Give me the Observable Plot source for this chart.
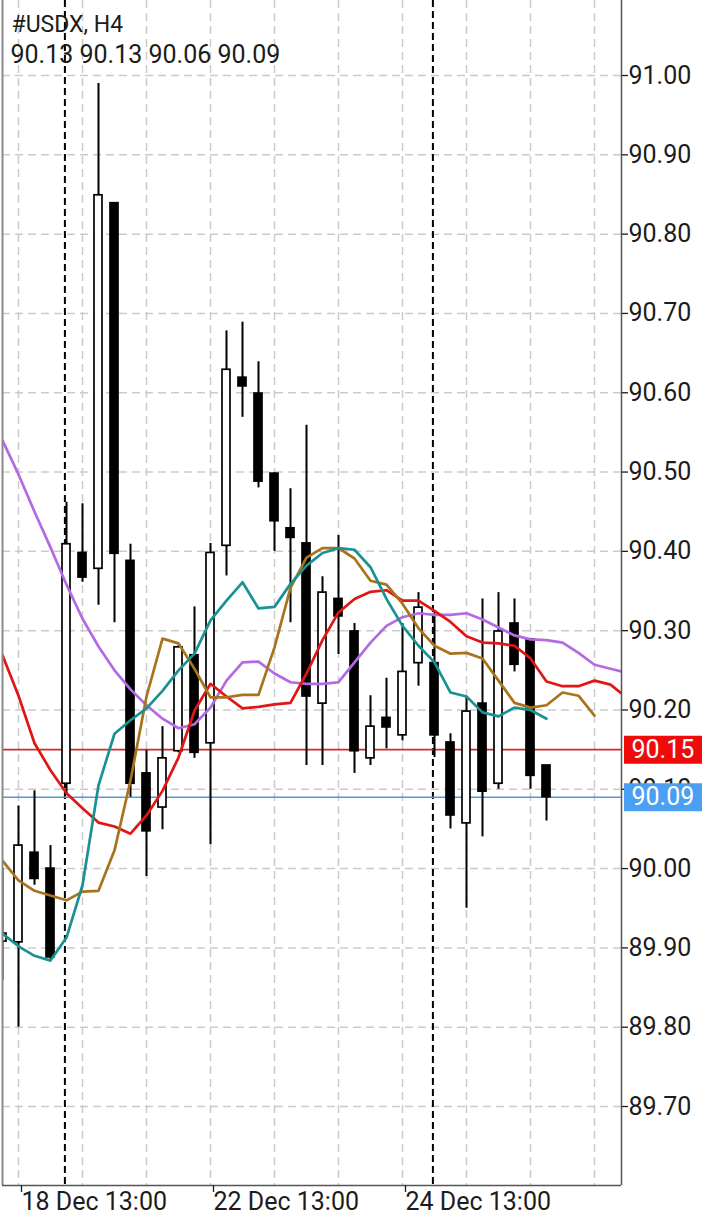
<!DOCTYPE html>
<html>
<head>
<meta charset="utf-8">
<script src="https://cdn.jsdelivr.net/npm/d3@7"></script>
<script src="https://cdn.jsdelivr.net/npm/@observablehq/plot@0.6"></script>
<style>
  html, body { margin: 0; padding: 0; background: #fff; }
  svg { display: block; }
</style>
</head>
<body>
<div id="chart"></div>
<script>
// ---------- data ----------
const symbolTitle = "#USDX, H4";
const ohlcHeader = "90.13 90.13 90.06 90.09";

// H4 candles, left to right (first one partly cut by the left edge)
const openPrices  = [89.908, 89.907, 90.020, 90.000, 90.107, 90.398, 90.378, 90.839, 90.388, 90.120, 90.077, 90.148, 90.269, 90.158, 90.407, 90.619, 90.599, 90.498, 90.429, 90.410, 90.208, 90.340, 90.299, 90.139, 90.190, 90.168, 90.259, 90.259, 90.159, 90.057, 90.208, 90.107, 90.309, 90.289, 90.13];
const highPrices  = [90.000, 90.079, 90.098, 90.029, 90.462, 90.460, 90.990, 90.840, 90.409, 90.149, 90.179, 90.281, 90.330, 90.410, 90.678, 90.689, 90.639, 90.499, 90.479, 90.559, 90.368, 90.420, 90.309, 90.218, 90.240, 90.309, 90.348, 90.323, 90.170, 90.216, 90.340, 90.348, 90.340, 90.289, 90.13];
const lowPrices   = [89.859, 89.800, 89.979, 89.884, 90.092, 90.361, 90.332, 90.310, 90.090, 89.990, 90.049, 90.146, 90.139, 90.030, 90.369, 90.569, 90.480, 90.400, 90.310, 90.130, 90.130, 90.270, 90.120, 90.130, 90.151, 90.161, 90.230, 90.140, 90.050, 89.950, 90.040, 90.100, 90.248, 90.100, 90.06];
const closePrices = [89.918, 90.029, 89.987, 89.888, 90.409, 90.367, 90.849, 90.397, 90.107, 90.047, 90.139, 90.279, 90.146, 90.398, 90.629, 90.608, 90.488, 90.438, 90.417, 90.217, 90.348, 90.318, 90.148, 90.179, 90.178, 90.248, 90.329, 90.168, 90.067, 90.198, 90.097, 90.299, 90.257, 90.117, 90.09];

// moving averages (values per bar slot, shifted ones run past the last candle)
const maPurple = [90.540, 90.497, 90.450, 90.405, 90.358, 90.315, 90.280, 90.250, 90.226, 90.206, 90.189, 90.177, 90.182, 90.203, 90.237, 90.260, 90.261, 90.246, 90.235, 90.233, 90.233, 90.235, 90.260, 90.285, 90.306, 90.317, 90.322, 90.320, 90.320, 90.322, 90.314, 90.304, 90.294, 90.289, 90.288, 90.285, 90.272, 90.257, 90.252, 90.247];
const maRed    = [90.269, 90.218, 90.158, 90.124, 90.095, 90.076, 90.058, 90.053, 90.044, 90.067, 90.098, 90.140, 90.199, 90.233, 90.217, 90.202, 90.204, 90.207, 90.209, 90.246, 90.288, 90.323, 90.340, 90.349, 90.351, 90.338, 90.338, 90.325, 90.311, 90.293, 90.285, 90.284, 90.281, 90.265, 90.236, 90.230, 90.230, 90.237, 90.232, 90.216];
const maBrown  = [90.010, 89.985, 89.972, 89.966, 89.960, 89.971, 89.972, 90.023, 90.111, 90.217, 90.290, 90.284, 90.252, 90.216, 90.216, 90.219, 90.219, 90.279, 90.354, 90.392, 90.404, 90.404, 90.391, 90.363, 90.358, 90.334, 90.303, 90.281, 90.271, 90.272, 90.265, 90.237, 90.209, 90.203, 90.206, 90.222, 90.218, 90.193];
const maTeal   = [89.918, 89.902, 89.890, 89.884, 89.913, 89.979, 90.105, 90.170, 90.187, 90.202, 90.224, 90.250, 90.271, 90.313, 90.338, 90.361, 90.328, 90.330, 90.359, 90.382, 90.398, 90.404, 90.402, 90.380, 90.340, 90.306, 90.281, 90.260, 90.222, 90.217, 90.197, 90.192, 90.203, 90.200, 90.189];

const priceTicks = [89.7, 89.8, 89.9, 90.0, 90.1, 90.2, 90.3, 90.4, 90.5, 90.6, 90.7, 90.8, 90.9, 91.0];
const timeTickSlots = [1, 13, 25];
const timeTickLabels = ["18 Dec 13:00", "22 Dec 13:00", "24 Dec 13:00"];
const gridSlots = [1, 5, 9, 13, 17, 21, 25, 29, 33, 37];
const daySeparatorSlots = [3.9, 26.9];
const bidPrice = 90.15;
const lastPrice = 90.09;

// ---------- build tables ----------
const candles = openPrices.map((o, i) => ({
  i, open: o, high: highPrices[i], low: lowPrices[i], close: closePrices[i]
}));
const series = arr => arr.map((v, i) => ({ i, v }));
const timeLabelMap = new Map(timeTickSlots.map((s, k) => [s, timeTickLabels[k]]));

const X_MAX = 38.6875;
const Y_MIN = 89.6004, Y_MAX = 91.0946;
const FONT = 25;
const TEXT = "#1c1c1c";
const GRID = "#cbcbcb";

const chart = Plot.plot({
  width: 720,
  height: 1216,
  marginLeft: 2,
  marginRight: 99,
  marginTop: 0,
  marginBottom: 31,
  style: { background: "#ffffff", fontFamily: "Roboto, sans-serif", fontSize: "25px", color: TEXT, overflow: "visible" },
  x: { domain: [0, X_MAX], axis: null },
  y: { domain: [Y_MIN, Y_MAX], axis: null },
  color: { type: "identity" },
  marks: [
    // grid
    Plot.ruleY(priceTicks, { stroke: GRID, strokeWidth: 1.5, strokeDasharray: "8,5" }),
    Plot.ruleX(gridSlots, { stroke: GRID, strokeWidth: 1.5, strokeDasharray: "8,5" }),
    // day separators
    Plot.ruleX(daySeparatorSlots, { stroke: "#000", strokeWidth: 2, strokeDasharray: "7,4" }),
    // price lines
    Plot.ruleY([bidPrice], { stroke: "#d42a2a", strokeWidth: 1.6 }),
    Plot.ruleY([lastPrice], { stroke: "#4f9be3", strokeWidth: 1.6 }),
    // candles
    Plot.ruleX(candles, { x: "i", y1: "low", y2: "high", stroke: "#000", strokeWidth: 2, clip: true }),
    Plot.rect(candles, {
      x1: d => d.i - 0.25, x2: d => d.i + 0.25,
      y1: "open", y2: "close",
      fill: d => d.close > d.open ? "#ffffff" : "#000000",
      stroke: "#000", strokeWidth: 1.7, clip: true
    }),
    // moving averages
    Plot.line(series(maPurple), { x: "i", y: "v", stroke: "#b36ae2", strokeWidth: 2.7, clip: true }),
    Plot.line(series(maRed), { x: "i", y: "v", stroke: "#e01515", strokeWidth: 2.7, clip: true }),
    Plot.line(series(maBrown), { x: "i", y: "v", stroke: "#a8731c", strokeWidth: 2.7, clip: true }),
    Plot.line(series(maTeal), { x: "i", y: "v", stroke: "#1b9191", strokeWidth: 2.7, clip: true }),
    // frame lines
    Plot.ruleX([0], { stroke: "#8a8a8a", strokeWidth: 2 }),
    Plot.ruleX([X_MAX], { stroke: "#555", strokeWidth: 1.5 }),
    Plot.ruleY([Y_MIN], { stroke: "#555", strokeWidth: 1.5 }),
    // axes
    Plot.axisY(priceTicks, {
      anchor: "right", tickSize: 6, tickPadding: 1, label: null,
      tickFormat: d => d.toFixed(2), fontSize: FONT, color: TEXT, strokeWidth: 1.3
    }),
    Plot.axisX(timeTickSlots, {
      anchor: "bottom", tickSize: 7, tickPadding: 0, label: null,
      tickFormat: d => timeLabelMap.get(d), textAnchor: "start", dx: 3,
      fontSize: FONT, color: TEXT, strokeWidth: 1.3
    }),
    // price boxes on the axis
    Plot.ruleY([bidPrice], { x1: 38.875, x2: 43.75, stroke: "#f00a0a", strokeWidth: 28 }),
    Plot.ruleY([lastPrice], { x1: 38.875, x2: 43.75, stroke: "#4b9ff2", strokeWidth: 28 }),
    Plot.text([bidPrice, lastPrice], {
      x: 38.875, y: d => d, text: d => d.toFixed(2), dx: 7,
      textAnchor: "start", fill: "#ffffff", fontSize: FONT
    }),
    // header
    Plot.text([symbolTitle], { frameAnchor: "top-left", lineAnchor: "top", dx: 9, dy: 15, fill: TEXT, fontSize: 23 }),
    Plot.text([ohlcHeader], { frameAnchor: "top-left", lineAnchor: "top", dx: 8, dy: 45, fill: TEXT, fontSize: FONT })
  ]
});

document.getElementById("chart").appendChild(chart);
</script>
</body>
</html>
